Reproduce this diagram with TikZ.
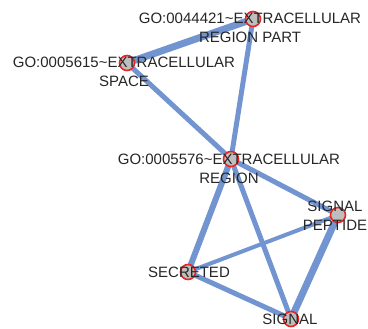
\documentclass[tikz,border=0pt]{standalone}
\usepackage{fontspec}
\setmainfont{Liberation Sans}
\usepackage{tikz}
\usetikzlibrary{positioning,backgrounds}

\definecolor{edgeblue}{RGB}{114,148,208}
\definecolor{termred}{RGB}{232,38,38}
\definecolor{termgray}{RGB}{190,190,190}

\tikzset{
    term/.style={circle, draw=termred, fill=termgray, line width=1.6pt, minimum size=15pt, inner sep=0pt},
    termlabel/.style={align=center, inner sep=0pt, font=\fontsize{15}{19}\selectfont, text=black!85},
    link/.style={draw=edgeblue, line cap=round}
}

\begin{document}
\begin{tikzpicture}[x=1pt, y=-1pt]
        \useasboundingbox (0,0) rectangle (368,329);

        \node [term] (regionpart) at (253,19) {};
        \node [term] (space) at (127,63) {};
        \node [term] (region) at (231,159) {};
        \node [term] (peptide) at (338,215) {};
        \node [term] (secreted) at (188,272) {};
        \node [term] (signal) at (291,319) {};

        % edges go under the terms
        \begin{scope}[on background layer]
        \draw [link, line width=7pt] (regionpart) -- (space);
        \draw [link, line width=5pt] (regionpart) -- (region);
        \draw [link, line width=5pt] (space) -- (region);
        \draw [link, line width=5pt] (region) -- (peptide);
        \draw [link, line width=6pt] (region) -- (secreted);
        \draw [link, line width=5pt] (region) -- (signal);
        \draw [link, line width=4pt] (peptide) -- (secreted);
        \draw [link, line width=7pt] (peptide) -- (signal);
        \draw [link, line width=5pt] (secreted) -- (signal);
        \end{scope}

        \node [termlabel] (regionpart-lbl) at (250,28) {GO:0044421\textasciitilde EXTRACELLULAR\\REGION PART};
        \node [termlabel] (space-lbl) at (124,72) {GO:0005615\textasciitilde EXTRACELLULAR\\SPACE};
        \node [termlabel] (region-lbl) at (229,168.5) {GO:0005576\textasciitilde EXTRACELLULAR\\REGION};
        \node [termlabel] (peptide-lbl) at (335,216) {SIGNAL\\PEPTIDE};
        \node [termlabel] (secreted-lbl) at (189,272) {SECRETED};
        \node [termlabel] (signal-lbl) at (290,319) {SIGNAL};
    \end{tikzpicture}
\end{document}
